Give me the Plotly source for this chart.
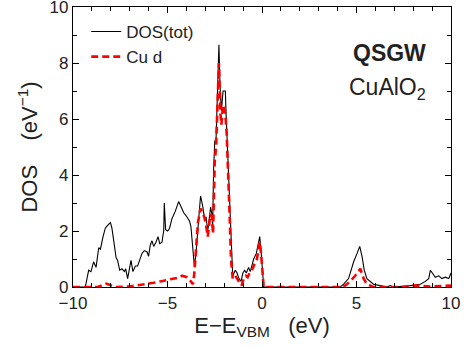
import plotly.graph_objects as go

# Total DOS (eV^-1) vs E - E_VBM (eV)
tot_e = [-10, -9.35, -9.17, -9.05, -8.91, -8.78, -8.64, -8.55, -8.41, -8.29, -8.17, -8.02,
         -7.94, -7.81, -7.72, -7.64, -7.53, -7.41, -7.28, -7.21, -7.11, -7.00, -6.93, -6.83,
         -6.70, -6.58, -6.47, -6.35, -6.23, -6.08, -6.00, -5.91, -5.82, -5.73, -5.61, -5.50,
         -5.41, -5.29, -5.26, -5.20, -5.17, -5.10, -4.99, -4.89, -4.76, -4.59, -4.41, -4.32,
         -4.14, -3.97, -3.83, -3.76, -3.67, -3.58, -3.49, -3.40, -3.33, -3.25, -3.14, -3.03,
         -2.96, -2.87, -2.77, -2.72, -2.65, -2.61, -2.56, -2.50, -2.43, -2.35, -2.28, -2.22,
         -2.15, -2.06, -1.94, -1.89, -1.80, -1.73, -1.64, -1.55, -1.41, -1.32, -1.22, -1.11,
         -1.01, -0.92, -0.83, -0.71, -0.62, -0.53, -0.44, -0.30, -0.12, -0.05, 0.09,
         4.14, 4.32, 4.58, 4.67, 4.85, 5.03, 5.17, 5.29, 5.41, 5.55, 5.73, 5.90, 6.25, 6.60,
         6.78, 6.95, 7.85, 8.38, 8.64, 8.82, 8.91, 9.00, 9.17, 9.35, 9.52, 9.70, 9.88, 10.0]
tot_dos = [0, 0, 0.6, 0.55, 0.9, 0.7, 1.4, 1.35, 1.8, 2.1, 2.2, 2.3,
           2.1, 1.4, 1.05, 0.95, 0.6, 0.65, 0.55, 0.65, 0.3, 0.7, 0.95, 0.55,
           0.75, 0.75, 0.95, 1.2, 1.3, 1.25, 1.1, 1.5, 1.65, 1.45, 1.6, 1.8,
           1.55, 1.6, 1.75, 2.0, 3.0, 2.05, 2.0, 2.1, 2.45, 2.7, 3.05, 2.9,
           2.65, 2.5, 2.35, 2.15, 1.5, 0.75, 1.2, 2.2, 2.6, 3.25, 2.9, 2.4,
           2.5, 2.0, 2.6, 2.85, 2.6, 2.2, 4.2, 5.2, 5.3, 7.0, 8.65, 7.2,
           6.3, 7.0, 7.0, 6.0, 4.5, 3.0, 1.5, 0.4, 0.6, 0.5, 0.3, 0.2,
           0.5, 0.6, 0.5, 0.7, 0.55, 0.8, 1.0, 1.2, 1.8, 1.3, 0.0,
           0.0, 0.1, 0.3, 0.5, 0.9, 1.2, 1.45, 1.1, 0.6, 0.3, 0.2, 0.1, 0.05, 0.0,
           0.05, 0.0, 0.05, 0.1, 0.2, 0.3, 0.6, 0.5, 0.35, 0.4, 0.3, 0.35, 0.3, 0.5]

# Cu d projected DOS
cud_e = [-10, -8.70, -8.24, -7.76, -7.00, -6.65, -6.43, -6.08, -5.73, -5.38, -5.03, -4.67,
         -4.32, -4.23, -3.97, -3.76, -3.65, -3.58, -3.49, -3.39, -3.25, -3.05, -2.96, -2.87,
         -2.73, -2.66, -2.59, -2.50, -2.43, -2.35, -2.28, -2.20, -2.15, -2.06, -1.94, -1.87,
         -1.78, -1.71, -1.64, -1.55, -1.41, -1.29, -1.18, -1.08, -0.97, -0.85, -0.76, -0.66,
         -0.53, -0.41, -0.27, -0.12, -0.05, 0.09,
         4.30, 4.49, 4.67, 4.93, 5.20, 5.38, 5.55, 5.73, 5.90, 7.60, 8.03, 8.90, 9.78, 10.0]
cud_dos = [0, 0, 0.12, 0, 0.02, 0.05, 0.08, 0.1, 0.15, 0.2, 0.25, 0.3,
           0.35, 0.4, 0.35, 0.2, 0.1, 0.5, 1.5, 2.3, 2.8, 2.5, 2.2, 1.8,
           2.6, 2.5, 1.9, 4.5, 5.0, 6.8, 8.0, 6.2, 5.8, 6.5, 6.2, 5.5,
           4.0, 2.5, 1.0, 0.3, 0.4, 0.25, 0.15, 0.05, 0.3, 0.4, 0.35, 0.5,
           0.6, 0.8, 1.0, 1.6, 1.2, 0.0,
           0.0, 0.1, 0.2, 0.4, 0.65, 0.3, 0.1, 0.05, 0.0, 0.0, 0.05, 0.02, 0.05, 0.05]

x_ticks = [-10, -5, 0, 5, 10]
x_tick_labels = ["\u221210", "\u22125", "0", "5", "10"]
y_ticks = [0, 2, 4, 6, 8, 10]

FONT = "Liberation Sans, Arial, sans-serif"
TXT = "#222"

fig = go.Figure()
fig.add_trace(go.Scatter(x=tot_e, y=tot_dos, mode="lines", name="DOS(tot)",
                         line=dict(color="black", width=1.1)))
fig.add_trace(go.Scatter(x=cud_e, y=cud_dos, mode="lines", name="Cu d",
                         line=dict(color="#ff0000", width=2.6, dash="7px,4px")))

axis_common = dict(showline=True, linecolor="black", linewidth=1.3, mirror="ticks",
                   ticks="inside", ticklen=6, tickcolor="black", showgrid=False,
                   zeroline=False, automargin=False, ticklabeloverflow="allow",
                   tickfont=dict(family=FONT, size=17, color=TXT))

fig.update_xaxes(range=[-10, 10], tickvals=x_ticks, ticktext=x_tick_labels,
                 minor=dict(dtick=1, ticks="inside", ticklen=4, tickcolor="black"),
                 title=dict(text="E\u2212E<sub>VBM</sub>   (eV)", font=dict(family=FONT, size=22, color=TXT),
                            standoff=2),
                 **axis_common)
fig.update_yaxes(range=[0, 10], tickvals=y_ticks,
                 minor=dict(dtick=1, ticks="inside", ticklen=4, tickcolor="black"),
                 title=dict(text="DOS    (eV<sup>\u22121</sup>)", font=dict(family=FONT, size=22, color=TXT),
                            standoff=5),
                 **axis_common)

fig.add_annotation(x=0.94, y=0.835, xref="paper", yref="paper", xanchor="right", yanchor="middle",
                   text="<b>QSGW</b>", showarrow=False, font=dict(family=FONT, size=23, color=TXT))
fig.add_annotation(x=0.94, y=0.71, xref="paper", yref="paper", xanchor="right", yanchor="middle",
                   text="CuAlO<sub>2</sub>", showarrow=False, font=dict(family=FONT, size=23, color=TXT))

fig.update_layout(
    width=466, height=347,
    margin=dict(l=73, r=15, t=7, b=60),
    paper_bgcolor="white", plot_bgcolor="white",
    showlegend=True,
    legend=dict(x=0.035, y=0.975, xanchor="left", yanchor="top", bgcolor="rgba(0,0,0,0)",
                font=dict(family=FONT, size=17, color=TXT), tracegroupgap=0),
)

fig.write_html("out.html", config={"displayModeBar": False},
               post_script="document.body.style.margin='0';document.body.style.overflow='hidden';")
